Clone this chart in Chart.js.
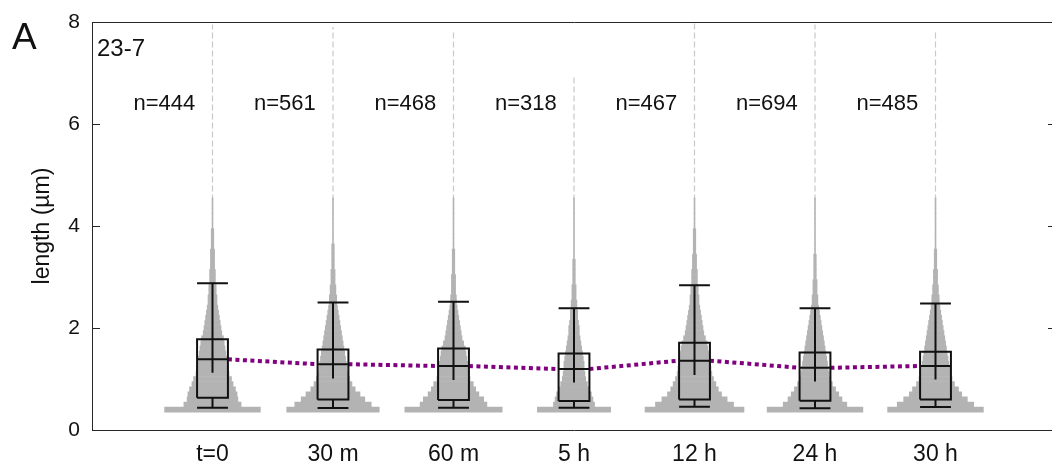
<!DOCTYPE html>
<html>
<head>
<meta charset="utf-8">
<script src="https://cdn.jsdelivr.net/npm/chart.js@4.4.0/dist/chart.umd.min.js"></script>
<style>
html, body { margin: 0; padding: 0; background: #fff; overflow: hidden; }
#cadre { width: 1060px; height: 468px; }
</style>
</head>
<body>
<div id="cadre"><canvas id="graphLongueurs" width="1060" height="468"></canvas></div>
<script>
// ============================================
// Données
// ============================================
var temps = ["t=0", "30 m", "60 m", "5 h", "12 h", "24 h", "30 h"];
var effectifs = [444, 561, 468, 318, 467, 694, 485];

// boîtes : quartiles, médiane, moustaches
var q1 = [0.634, 0.600, 0.588, 0.570, 0.600, 0.575, 0.600];
var mediane = [1.386, 1.290, 1.255, 1.196, 1.360, 1.220, 1.255];
var q3 = [1.778, 1.580, 1.600, 1.500, 1.710, 1.520, 1.535];
var moustacheHaut = [2.876, 2.500, 2.516, 2.386, 2.840, 2.386, 2.480];
var moustacheBas = [0.437, 0.430, 0.437, 0.437, 0.457, 0.425, 0.450];
var finTrait = [1.124, 1.010, 0.980, 0.930, 1.080, 0.950, 0.990];

// histogrammes (effectif par classe de 0.1 µm, à partir de 0.4 µm)
var classeDebut = 0.4;
var classePas = 0.1;
var histT0  = [60, 36, 32, 31, 29, 26, 24, 21, 20, 19, 18, 17, 16, 15, 14, 12, 11, 10, 9, 8, 7, 6, 6, 5, 5, 4, 4, 4, 3, 3, 3, 3, 2, 2, 2, 2, 1, 1, 1, 1, 1, 1];
var hist30m = [58, 48, 40, 34, 28, 24, 21, 19, 18, 17, 16, 15, 14, 13, 12, 11, 10, 9, 8, 7, 6, 5, 5, 4, 4, 3, 3, 3, 2, 2, 2, 2, 2, 1, 1, 1, 1, 1, 1, 1, 1, 1];
var hist60m = [61, 42, 38, 32, 28, 25, 21, 20, 19, 18, 17, 16, 15, 13, 11, 10, 9, 8, 7, 6, 5, 4, 4, 3, 3, 3, 3, 2, 2, 2, 2, 2, 1, 1, 1, 1, 1, 1, 1, 1, 1, 1];
var hist5h  = [46, 26, 24, 22, 19, 17, 15, 14, 13, 13, 12, 11, 10, 9, 8, 7, 7, 6, 5, 5, 4, 4, 3, 3, 3, 2, 2, 2, 2, 2, 1, 1, 1, 1, 1, 1, 1, 1, 1, 1, 1, 1];
var hist12h = [62, 49, 41, 34, 30, 27, 24, 22, 21, 20, 19, 18, 17, 16, 14, 12, 11, 10, 9, 8, 7, 6, 6, 5, 5, 4, 4, 4, 3, 3, 3, 2, 2, 2, 2, 2, 1, 1, 1, 1, 1, 1];
var hist24h = [60, 40, 34, 30, 26, 22, 19, 18, 17, 16, 15, 14, 13, 12, 11, 10, 9, 8, 7, 6, 5, 4, 4, 3, 3, 3, 2, 2, 2, 2, 2, 1, 1, 1, 1, 1, 1, 1, 1, 1, 1, 1];
var hist30h = [60, 48, 40, 33, 29, 24, 21, 19, 18, 17, 16, 15, 14, 13, 12, 11, 10, 9, 8, 7, 6, 5, 5, 4, 4, 3, 3, 3, 2, 2, 2, 2, 1, 1, 1, 1, 1, 1, 1, 1, 1, 1];
var histogrammes = [histT0, hist30m, hist60m, hist5h, hist12h, hist24h, hist30h];

// longueur maximale observée (queue de la distribution)
var queueMax = [7.95, 7.90, 7.80, 6.95, 7.98, 7.95, 7.80];

var graduationsY = [0, 2, 4, 6, 8];

// ============================================
// Construction des jeux de données
// ============================================
var demiBoite = 0.128;          // demi-largeur des boîtes (unités de l'axe x)
var echelleEffectif = 0.4 / 60; // demi-largeur par individu

var barres = [];
var queues = [];
var traits = [];
var pointilles = [];
var coupure = { x: null, y: null };

temps.forEach(function (t, i) {
    var cx = i + 1;
    var hist = histogrammes[i];
    var haut = classeDebut;
    hist.forEach(function (n, j) {
        var y = Math.round((classeDebut + j * classePas) * 10) / 10;
        var w = n * echelleEffectif;
        barres.push({ y: y, x: [cx - w, cx + w] });
        haut = y;
    });

    queues.push({ x: cx, y: haut }, { x: cx, y: queueMax[i] }, coupure);

    // boîte
    traits.push(
        { x: cx - demiBoite, y: q1[i] }, { x: cx + demiBoite, y: q1[i] },
        { x: cx + demiBoite, y: q3[i] }, { x: cx - demiBoite, y: q3[i] },
        { x: cx - demiBoite, y: q1[i] }, coupure,
        { x: cx - demiBoite, y: mediane[i] }, { x: cx + demiBoite, y: mediane[i] }, coupure,
        // moustache haute + trait vertical
        { x: cx - demiBoite, y: moustacheHaut[i] }, { x: cx + demiBoite, y: moustacheHaut[i] }, coupure,
        { x: cx, y: moustacheHaut[i] }, { x: cx, y: finTrait[i] }, coupure,
        // moustache basse
        { x: cx, y: q1[i] }, { x: cx, y: moustacheBas[i] }, coupure,
        { x: cx - demiBoite, y: moustacheBas[i] }, { x: cx + demiBoite, y: moustacheBas[i] }, coupure
    );

    if (i < temps.length - 1) {
        pointilles.push(
            { x: cx + demiBoite, y: mediane[i] },
            { x: cx + 1 - demiBoite, y: mediane[i + 1] },
            coupure
        );
    }
});

// ============================================
// Textes : panneau, souche, effectifs
// ============================================
var textes = {
    id: "textes",
    afterDraw: function (chart) {
        var ctx = chart.ctx;
        var sx = chart.scales.x;
        var sy = chart.scales.y;
        var zone = chart.chartArea;
        ctx.save();
        ctx.fillStyle = "#111";

        ctx.font = "37px 'Liberation Sans', Arial, sans-serif";
        ctx.textAlign = "left";
        ctx.textBaseline = "alphabetic";
        ctx.fillText("A", 12, 49);

        ctx.font = "24px 'Liberation Sans', Arial, sans-serif";
        ctx.textBaseline = "middle";
        ctx.fillText("23-7", zone.left + 5, 49);

        ctx.font = "22px 'Liberation Sans', Arial, sans-serif";
        ctx.textAlign = "center";
        effectifs.forEach(function (n, i) {
            ctx.fillText("n=" + n, sx.getPixelForValue(i + 1 - 0.40), sy.getPixelForValue(6.4));
        });
        ctx.restore();
    }
};

var couleurAxe = "#262626";
var police = "'Liberation Sans', Arial, sans-serif";

var ctx = document.getElementById("graphLongueurs").getContext("2d");
new Chart(ctx, {
    type: "bar",
    data: {
        datasets: [
            {
                type: "scatter",
                data: traits,
                showLine: true,
                borderColor: "#111",
                borderWidth: 2,
                borderJoinStyle: "miter",
                pointRadius: 0,
                spanGaps: false,
                xAxisID: "x",
                yAxisID: "y",
                order: 0
            },
            {
                type: "bar",
                data: barres,
                indexAxis: "y",
                grouped: false,
                backgroundColor: "#b3b3b3",
                borderWidth: 0,
                barPercentage: 1,
                categoryPercentage: 1.1,
                xAxisID: "x",
                yAxisID: "y",
                order: 1
            },
            {
                type: "scatter",
                data: queues,
                showLine: true,
                borderColor: "#c9c9c9",
                borderWidth: 1.2,
                borderDash: [6, 3],
                pointRadius: 0,
                spanGaps: false,
                xAxisID: "x",
                yAxisID: "y",
                order: 2
            },
            {
                type: "scatter",
                data: pointilles,
                showLine: true,
                borderColor: "#800080",
                borderWidth: 4,
                borderDash: [4, 3.5],
                pointRadius: 0,
                spanGaps: false,
                xAxisID: "x",
                yAxisID: "y",
                order: 3
            }
        ]
    },
    options: {
        responsive: false,
        animation: false,
        events: [],
        layout: { padding: { top: 22, left: 0, right: 0, bottom: 0 } },
        plugins: {
            legend: { display: false },
            tooltip: { enabled: false }
        },
        scales: {
            x: {
                type: "linear",
                position: "bottom",
                min: 0,
                max: 8,
                offset: false,
                afterBuildTicks: function (scale) {
                    scale.ticks = temps.map(function (t, i) { return { value: i + 1 }; });
                },
                ticks: {
                    autoSkip: false,
                    maxRotation: 0,
                    padding: 11,
                    color: "#111",
                    font: { family: police, size: 23 },
                    callback: function (v) { return temps[v - 1]; }
                },
                grid: { offset: false, drawOnChartArea: false, drawTicks: false },
                border: { color: couleurAxe, width: 1 },
                afterFit: function (scale) {
                    scale.height = 38;
                    scale.paddingLeft = 0;
                    scale.paddingRight = 0;
                }
            },
            xHaut: {
                type: "linear",
                position: "top",
                min: 0,
                max: 8,
                offset: false,
                ticks: { display: false },
                grid: { offset: false, drawOnChartArea: false, drawTicks: false },
                border: { color: couleurAxe, width: 1 },
                afterFit: function (scale) { scale.height = 0; }
            },
            y: {
                type: "linear",
                position: "left",
                min: 0,
                max: 8,
                offset: false,
                afterBuildTicks: function (scale) {
                    scale.ticks = graduationsY.map(function (v) { return { value: v }; });
                },
                ticks: {
                    padding: 20,
                    color: "#111",
                    font: { family: police, size: 21 }
                },
                title: {
                    display: true,
                    text: "length (µm)",
                    color: "#111",
                    font: { family: police, size: 23 },
                    padding: { top: 29, bottom: 0 }
                },
                grid: { offset: false, drawOnChartArea: false, drawTicks: true, tickLength: -8, color: couleurAxe },
                border: { color: couleurAxe, width: 1 },
                afterFit: function (scale) {
                    // la marge des étiquettes ne doit pas repousser la zone du graphique
                    scale.width = 92;
                    scale.paddingTop = 0;
                    scale.paddingBottom = 0;
                }
            },
            yDroite: {
                type: "linear",
                position: "right",
                min: 0,
                max: 8,
                offset: false,
                afterBuildTicks: function (scale) {
                    scale.ticks = graduationsY.map(function (v) { return { value: v }; });
                },
                ticks: { display: false },
                grid: { offset: false, drawOnChartArea: false, drawTicks: true, tickLength: -8, color: couleurAxe },
                border: { color: couleurAxe, width: 1 },
                afterFit: function (scale) {
                    scale.width = 4;
                    scale.paddingTop = 0;
                    scale.paddingBottom = 0;
                }
            }
        }
    },
    plugins: [textes]
});
</script>
</body>
</html>
